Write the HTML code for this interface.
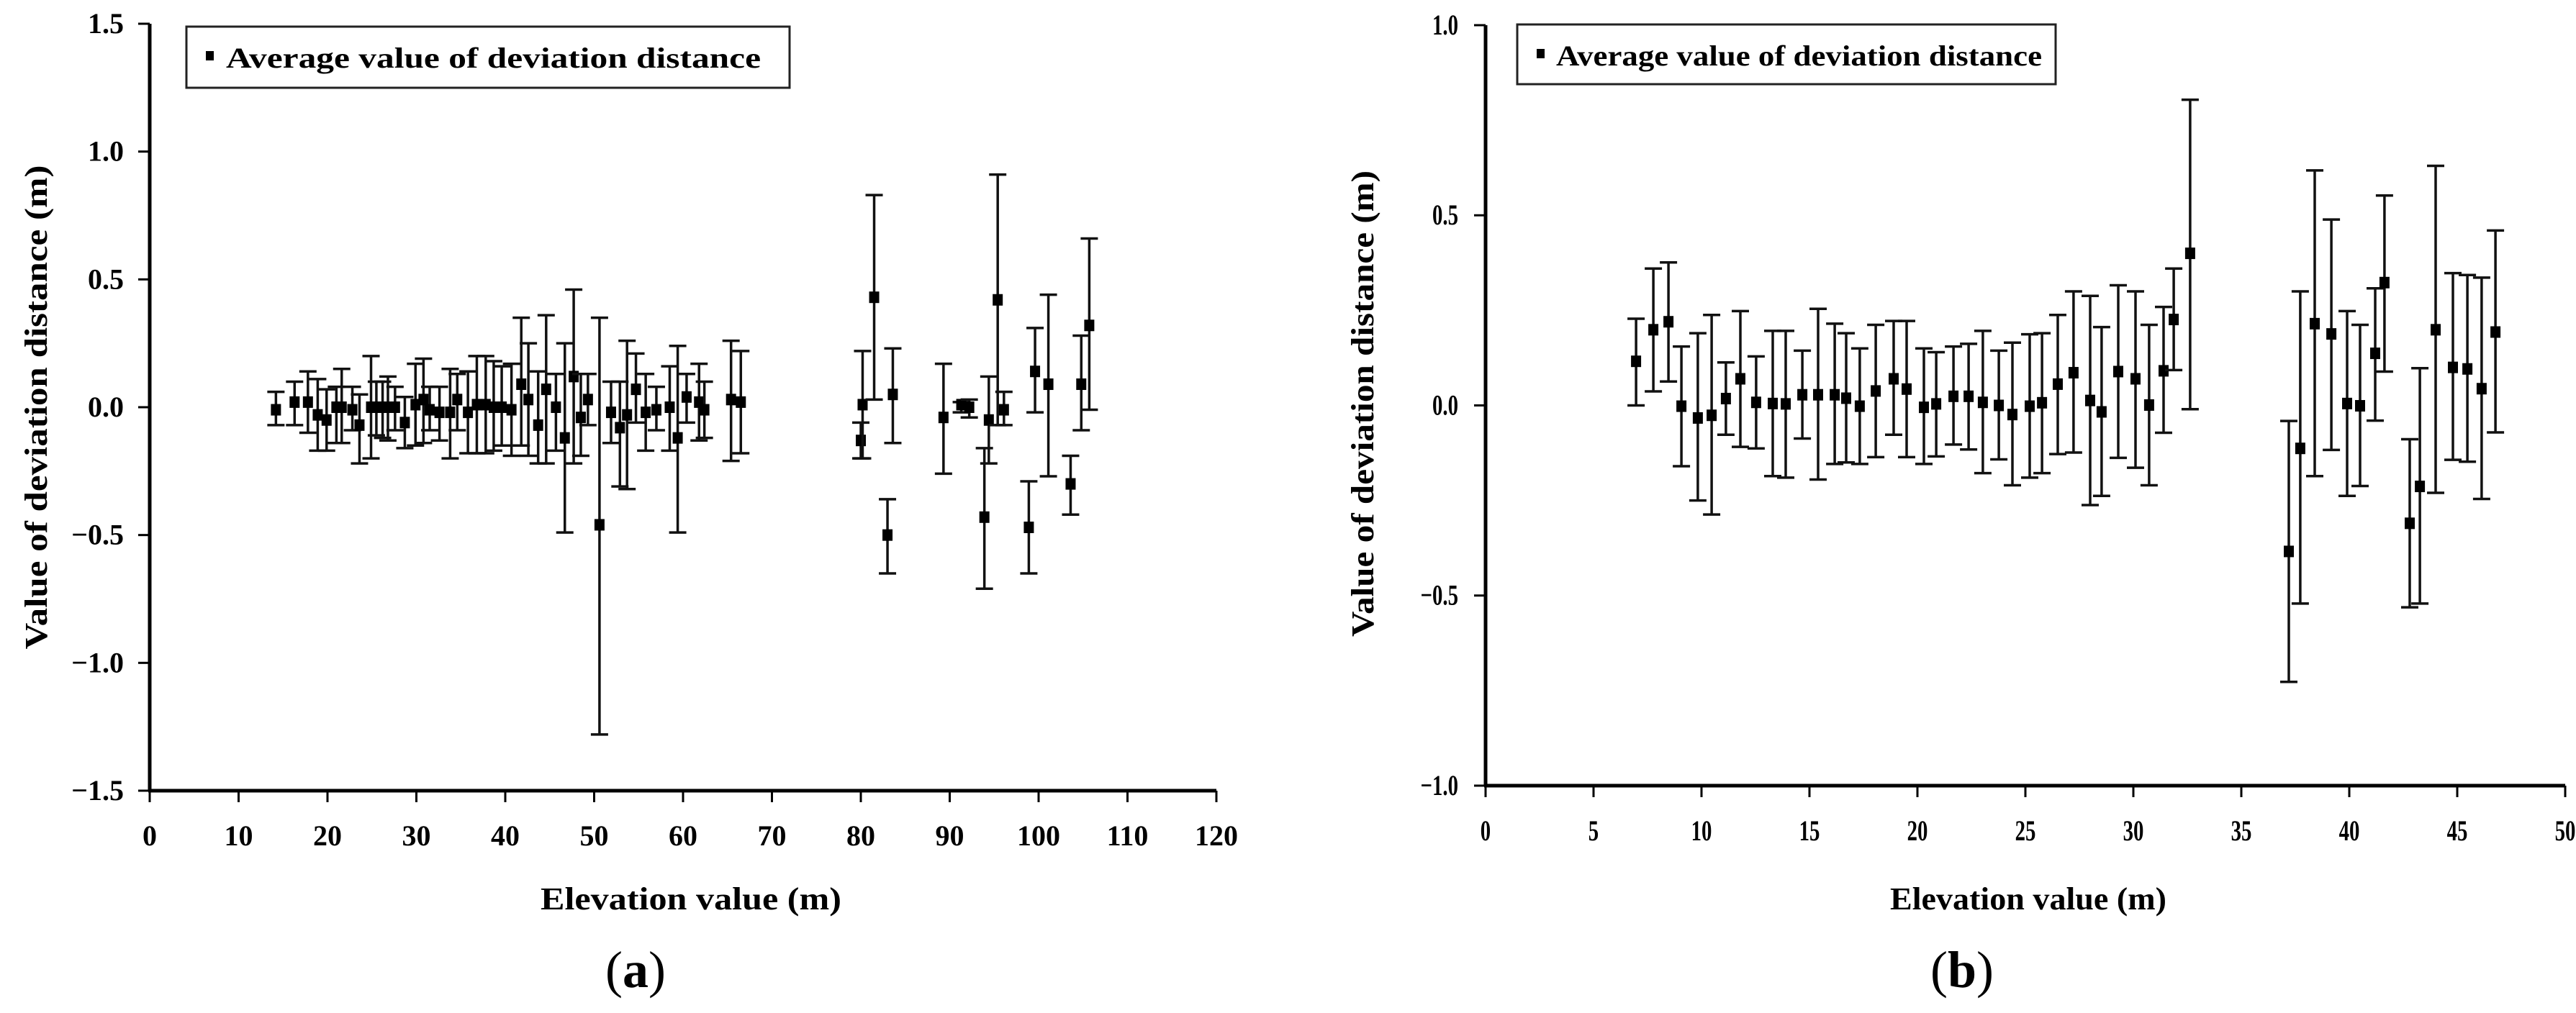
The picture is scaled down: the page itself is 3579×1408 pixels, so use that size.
<!DOCTYPE html>
<html><head><meta charset="utf-8"><style>
html,body{margin:0;padding:0;background:#fff;width:3579px;height:1408px;overflow:hidden}
svg{display:block}
text{font-family:"Liberation Serif",serif;font-weight:bold;fill:#000}
</style></head><body>
<svg id="svg" width="3579" height="1408" viewBox="0 0 3579 1408" xmlns="http://www.w3.org/2000/svg">
<g id="ga"></g>
<g id="gb"></g>
</svg>
<script>
// Chart (a) data
const aX = [14.2,16.3,17.8,18.9,19.9,21,21.6,22.8,23.6,24.9,25.5,26.2,26.8,27.6,28.7,29.9,30.8,31.5,32.6,33.8,34.6,35.8,36.8,37.8,38.7,39.6,40.7,41.8,42.6,43.7,44.6,45.7,46.7,47.7,48.5,49.3,50.6,51.9,52.9,53.7,54.7,55.8,57,58.5,59.4,60.4,61.8,62.4,65.4,66.5,80,80.2,81.5,83,83.6,89.3,91.3,92.2,93.9,94.4,95.4,96.1,98.9,99.6,101.1,103.6,104.8,105.7];
const aMean = [-0.01,0.02,0.02,-0.03,-0.05,0,0,-0.01,-0.07,0,0,0,0,0,-0.06,0.01,0.03,-0.01,-0.02,-0.02,0.03,-0.02,0.01,0.01,0,0,-0.01,0.09,0.03,-0.07,0.07,0,-0.12,0.12,-0.04,0.03,-0.46,-0.02,-0.08,-0.03,0.07,-0.02,-0.01,0,-0.12,0.04,0.02,-0.01,0.03,0.02,-0.13,0.01,0.43,-0.5,0.05,-0.04,0.01,0,-0.43,-0.05,0.42,-0.01,-0.47,0.14,0.09,-0.3,0.09,0.32];
const aHigh = [0.06,0.1,0.14,0.11,0.07,0.08,0.15,0.08,0.05,0.2,0.1,0.1,0.12,0.08,0.04,0.17,0.19,0.08,0.08,0.15,0.13,0.14,0.2,0.2,0.18,0.16,0.17,0.35,0.25,0.14,0.36,0.13,0.25,0.46,0.13,0.13,0.35,0.1,0.1,0.26,0.21,0.13,0.08,0.16,0.24,0.13,0.17,0.1,0.26,0.22,-0.06,0.22,0.83,-0.36,0.23,0.17,0.02,0.03,-0.16,0.12,0.91,0.06,-0.29,0.31,0.44,-0.19,0.28,0.66];
const aLow = [-0.07,-0.07,-0.1,-0.17,-0.17,-0.14,-0.14,-0.09,-0.22,-0.2,-0.11,-0.12,-0.13,-0.09,-0.16,-0.15,-0.14,-0.09,-0.13,-0.2,-0.09,-0.18,-0.18,-0.18,-0.17,-0.15,-0.19,-0.15,-0.19,-0.22,-0.22,-0.17,-0.49,-0.22,-0.19,-0.07,-1.28,-0.14,-0.31,-0.32,-0.06,-0.17,-0.09,-0.17,-0.49,-0.06,-0.13,-0.12,-0.21,-0.18,-0.2,-0.2,0.03,-0.65,-0.14,-0.26,-0.02,-0.04,-0.71,-0.22,-0.07,-0.07,-0.65,-0.02,-0.27,-0.42,-0.09,-0.01];
const aXTicks = [0,10,20,30,40,50,60,70,80,90,100,110,120];
const aYTicks = ["1.5","1.0","0.5","0.0","-0.5","-1.0","-1.5"];

// Chart (b) data
const bX = [6.97,7.77,8.47,9.07,9.83,10.47,11.13,11.8,12.53,13.3,13.9,14.67,15.4,16.17,16.7,17.33,18.07,18.9,19.5,20.3,20.87,21.67,22.37,23.03,23.77,24.4,25.2,25.77,26.5,27.23,28,28.53,29.3,30.1,30.73,31.4,31.87,32.63,37.2,37.73,38.4,39.17,39.9,40.5,41.2,41.63,42.8,43.27,44,44.8,45.47,46.13,46.77];
const bMean = [0.116,0.199,0.22,-0.002,-0.033,-0.026,0.018,0.07,0.008,0.005,0.004,0.028,0.028,0.028,0.019,-0.002,0.038,0.07,0.043,-0.005,0.004,0.024,0.024,0.008,0,-0.024,-0.002,0.007,0.056,0.086,0.013,-0.017,0.089,0.07,0.001,0.091,0.226,0.4,-0.384,-0.113,0.215,0.188,0.005,-0.001,0.137,0.323,-0.31,-0.213,0.199,0.1,0.096,0.044,0.193];
const bHigh = [0.228,0.36,0.376,0.155,0.19,0.238,0.113,0.248,0.129,0.196,0.196,0.144,0.254,0.215,0.19,0.15,0.212,0.222,0.222,0.15,0.14,0.155,0.162,0.196,0.144,0.165,0.187,0.19,0.238,0.3,0.288,0.206,0.316,0.3,0.212,0.259,0.36,0.804,-0.041,0.3,0.618,0.489,0.248,0.212,0.308,0.552,-0.089,0.098,0.63,0.348,0.343,0.336,0.46];
const bLow = [0,0.037,0.063,-0.16,-0.25,-0.287,-0.077,-0.109,-0.113,-0.186,-0.19,-0.087,-0.195,-0.154,-0.15,-0.154,-0.136,-0.077,-0.136,-0.154,-0.134,-0.103,-0.116,-0.178,-0.142,-0.21,-0.19,-0.178,-0.128,-0.124,-0.262,-0.238,-0.138,-0.164,-0.21,-0.072,0.093,-0.01,-0.727,-0.521,-0.186,-0.117,-0.238,-0.212,-0.04,0.089,-0.531,-0.521,-0.23,-0.143,-0.148,-0.246,-0.071];
const bXTicks = [0,5,10,15,20,25,30,35,40,45,50];
const bYTicks = ["1.0","0.5","0.0","-0.5","-1.0"];

const NS = "http://www.w3.org/2000/svg";
function mk(parent, tag, attrs, txt){
  const e = document.createElementNS(NS, tag);
  for (const k in attrs) e.setAttribute(k, attrs[k]);
  if (txt !== undefined) e.textContent = txt;
  parent.appendChild(e);
  return e;
}

function drawChart(g, cfg){
  const sx = v => cfg.x0 + (v - cfg.xmin) / (cfg.xmax - cfg.xmin) * (cfg.x1 - cfg.x0);
  const sy = v => cfg.y0 + (cfg.ymax - v) / (cfg.ymax - cfg.ymin) * (cfg.y1 - cfg.y0);
  const ya = mk(g, 'line', {x1:cfg.x0, y1:cfg.y0, x2:cfg.x0, y2:cfg.y1, stroke:'#000','stroke-width':5});
  
  
  const xa = mk(g, 'line', {x1:cfg.x0-2, y1:cfg.y1, x2:cfg.x1, y2:cfg.y1, stroke:'#000','stroke-width':5});
  
  
  cfg.yTicks.forEach(t => {
    const y = sy(parseFloat(t));
    const tk = mk(g, 'line', {x1:cfg.x0-16, y1:y, x2:cfg.x0, y2:y, stroke:'#000','stroke-width':3});
    
    
    const lx = cfg.x0-cfg.ylabGap;
    const lb = mk(g, 'text', {x:0, y:y+13, 'text-anchor':'end', 'font-size':cfg.tickFont, transform:`translate(${lx},0) scale(${cfg.tickScale},1)`}, t.replace('-', '\u2212'));
    
    
  });
  cfg.xTicks.forEach(t => {
    const x = sx(t);
    const tk = mk(g, 'line', {x1:x, y1:cfg.y1, x2:x, y2:cfg.y1+16, stroke:'#000','stroke-width':3});
    
    
    const lb = mk(g, 'text', {x:0, y:cfg.y1+76, 'text-anchor':'middle', 'font-size':cfg.tickFont, transform:`translate(${x},0) scale(${cfg.tickScale},1)`}, String(t));
    
    
  });
  cfg.xs.forEach((xv, i) => {
    const x = sx(xv), yh = sy(cfg.hi[i]), yl = sy(cfg.lo[i]), ym = sy(cfg.mean[i]);
    const bar = mk(g, 'path', {d:`M${x},${yh}V${yl}M${x-12},${yh}H${x+12}M${x-12},${yl}H${x+12}`, stroke:'#111','stroke-width':3.5, fill:'none'});
    
    
    const pt = mk(g, 'rect', {x:x-7, y:ym-8, width:14, height:16, fill:'#000'});
    
    
  });
  const lg = mk(g, 'g', {});
  
  
  mk(lg, 'rect', {x:cfg.leg[0], y:cfg.leg[1], width:cfg.leg[2], height:cfg.leg[3], fill:'#fff', stroke:'#222','stroke-width':3});
  const lm = mk(lg, 'rect', {x:cfg.leg[0]+27, y:cfg.leg[1]+34, width:11, height:13, fill:'#000'});
  
  
  const lt = mk(lg, 'text', {x:cfg.legText[0], y:cfg.leg[1]+57, 'font-size':40, textLength:cfg.legText[1], lengthAdjust:'spacingAndGlyphs'}, 'Average value of deviation distance');
  
  
  const yt = mk(g, 'text', {x:0, y:0, 'text-anchor':'middle', 'font-size':44, textLength:cfg.yTitle[3], lengthAdjust:'spacingAndGlyphs', transform:`translate(${cfg.yTitle[0]},${cfg.yTitle[1]}) rotate(-90)`, dy:15}, 'Value of deviation distance (m)');
  
  
  const xt = mk(g, 'text', {x:cfg.xTitle[0], y:cfg.xTitle[1], 'text-anchor':'middle', 'font-size':44, textLength:cfg.xTitle[2], lengthAdjust:'spacingAndGlyphs'}, 'Elevation value (m)');
  
  
  const pl = mk(g, 'text', {x:cfg.panel[0], y:cfg.panel[1], 'text-anchor':'middle', 'font-size':72, 'font-weight':'normal'}, '');
  
  
  mk(pl, 'tspan', {'font-weight':'normal'}, '(');
  mk(pl, 'tspan', {'font-weight':'bold'}, cfg.panel[2]);
  mk(pl, 'tspan', {'font-weight':'normal'}, ')');
}

drawChart(document.getElementById('ga'), {
  x0:208, x1:1690, y0:33, y1:1099, xmin:0, xmax:120, ymin:-1.5, ymax:1.5,
  xs:aX, mean:aMean, hi:aHigh, lo:aLow, xTicks:aXTicks, yTicks:aYTicks,
  tickFont:40, tickScale:1, ylabGap:36,
  leg:[259,37,838,85], legText:[314,743],
  yTitle:[50,566,0,673], xTitle:[960,1264,418], panel:[883,1372,'a']
});
drawChart(document.getElementById('gb'), {
  x0:2064, x1:3564, y0:35, y1:1092, xmin:0, xmax:50, ymin:-1.0, ymax:1.0,
  xs:bX, mean:bMean, hi:bHigh, lo:bLow, xTicks:bXTicks, yTicks:bYTicks,
  tickFont:40, tickScale:0.72, ylabGap:38,
  leg:[2108,34,748,83], legText:[2162,675],
  yTitle:[1893,561,0,648], xTitle:[2818,1264,384], panel:[2726,1372,'b']
});
</script>
</body></html>
